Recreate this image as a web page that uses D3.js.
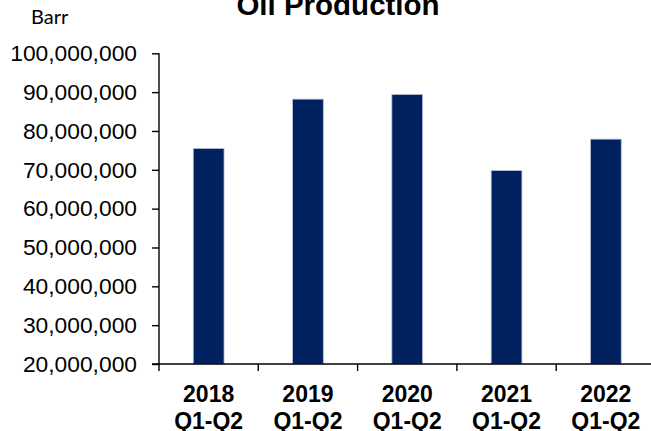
<!DOCTYPE html>
<html>
<head>
<meta charset="utf-8">
<script src="https://cdn.jsdelivr.net/npm/d3@7"></script>
<style>
  html, body { margin: 0; padding: 0; background: #fff; }
  svg { display: block; }
</style>
</head>
<body>
<svg id="chart" width="651" height="431"></svg>
<script>
// Half-year oil production, barrels
const years = ["2018", "2019", "2020", "2021", "2022"];
const periods = ["Q1-Q2", "Q1-Q2", "Q1-Q2", "Q1-Q2", "Q1-Q2"];
const production = [75500000, 88200000, 89400000, 69800000, 77900000];
const yTicks = [20000000, 30000000, 40000000, 50000000, 60000000, 70000000, 80000000, 90000000, 100000000];

(function () {
  const svg = d3.select("#chart");
  const W = 651;
  const plotLeft = 159, plotRight = 655.5, plotTop = 53.3, plotBottom = 364;

  const x = d3.scaleBand()
    .domain(years)
    .range([plotLeft, plotRight])
    .paddingInner(0.69)
    .paddingOuter(0.345);

  const y = d3.scaleLinear()
    .domain([20000000, 100000000])
    .range([plotBottom, plotTop]);

  const fmt = d3.format(",");

  // Title
  svg.append("text")
    .attr("x", 338).attr("y", 15)
    .attr("text-anchor", "middle")
    .attr("font-family", "Liberation Sans, Arial, sans-serif")
    .attr("font-weight", "bold")
    .attr("font-size", 29.5)
    .attr("fill", "#000")
    .text("Oil Production");

  // Unit label
  svg.append("text")
    .attr("x", 31).attr("y", 24)
    .attr("font-family", "Lato, Carlito, sans-serif")
    .attr("font-size", 20)
    .attr("fill", "#000")
    .text("Barr");

  // Bars
  svg.append("g").selectAll("rect")
    .data(production)
    .join("rect")
    .attr("x", (d, i) => x(years[i]))
    .attr("width", x.bandwidth())
    .attr("y", d => y(d))
    .attr("height", d => y(20000000) - y(d))
    .attr("fill", "#002060")
    .attr("stroke", "#b9c3dd")
    .attr("stroke-width", 0.8);

  // Y axis
  const yAxis = svg.append("g")
    .attr("transform", `translate(${plotLeft},0)`)
    .call(d3.axisLeft(y).tickValues(yTicks).tickFormat(fmt).tickSize(7).tickPadding(15))
    .call(g => g.select(".domain").attr("d", `M0,${plotTop}V${plotBottom}`));
  yAxis.selectAll("line, path").attr("stroke", "#000").attr("stroke-width", 1.4);
  yAxis.selectAll("text")
    .attr("font-family", "Liberation Sans, Arial, sans-serif")
    .attr("font-size", 22.8)
    .attr("fill", "#000");

  // X axis: baseline plus ticks at category boundaries
  const xAxis = svg.append("g");
  xAxis.append("line")
    .attr("x1", plotLeft - 7).attr("x2", W)
    .attr("y1", plotBottom).attr("y2", plotBottom)
    .attr("stroke", "#000").attr("stroke-width", 1.4);
  const boundaries = years.map(d => x(d) - x.step() * x.paddingOuter());
  boundaries.push(plotRight);
  xAxis.selectAll("line.tick")
    .data(boundaries)
    .join("line")
    .attr("class", "tick")
    .attr("x1", d => d).attr("x2", d => d)
    .attr("y1", plotBottom).attr("y2", plotBottom + 7)
    .attr("stroke", "#000").attr("stroke-width", 1.4);

  // Category labels, two lines each
  const labels = xAxis.selectAll("text.cat")
    .data(years)
    .join("text")
    .attr("class", "cat")
    .attr("text-anchor", "middle")
    .attr("font-family", "Liberation Sans, Arial, sans-serif")
    .attr("font-weight", "bold")
    .attr("font-size", 23)
    .attr("fill", "#000");
  labels.append("tspan")
    .attr("x", d => x(d) + x.bandwidth() / 2)
    .attr("y", 402)
    .text(d => d);
  labels.append("tspan")
    .attr("x", d => x(d) + x.bandwidth() / 2)
    .attr("y", 429)
    .text((d, i) => periods[i]);
})();
</script>
</body>
</html>
